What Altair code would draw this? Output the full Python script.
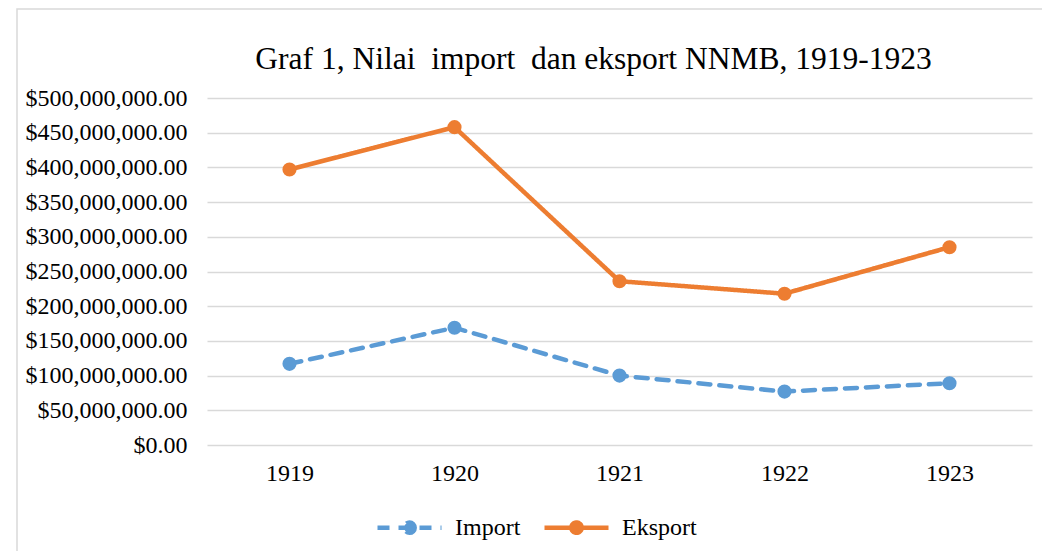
import altair as alt
import pandas as pd

years = ["1919", "1920", "1921", "1922", "1923"]
import_vals = [117_000_000, 169_000_000, 100_000_000, 77_000_000, 89_000_000]
eksport_vals = [397_000_000, 458_000_000, 236_000_000, 218_000_000, 285_000_000]
y_ticks = [0, 50_000_000, 100_000_000, 150_000_000, 200_000_000, 250_000_000,
           300_000_000, 350_000_000, 400_000_000, 450_000_000, 500_000_000]
series_names = ["Import", "Eksport"]
series_colors = ["#5B9BD5", "#ED7D31"]
title_text = "Graf 1, Nilai\u00a0 import\u00a0 dan eksport NNMB, 1919-1923"

rows = []
for name, vals in zip(series_names, [import_vals, eksport_vals]):
    for y, v in zip(years, vals):
        rows.append({"Tahun": y, "Nilai": v, "Seri": name})
df = pd.DataFrame(rows)

FONT = "Liberation Serif"

color_scale = alt.Scale(domain=series_names, range=series_colors)
dash_scale = alt.Scale(domain=series_names, range=[[12, 9], [1, 0]])

legend_path = ("M-1.6,0H1.6"
               "M0.26,0A0.26,0.26 0 1,1 -0.26,0A0.26,0.26 0 1,1 0.26,0"
               "M0.12,0A0.12,0.12 0 1,1 -0.12,0A0.12,0.12 0 1,1 0.12,0")

x_enc = alt.X("Tahun:N", sort=years, title=None,
              scale=alt.Scale(paddingInner=0, paddingOuter=0.0),
              axis=alt.Axis(labelAngle=0, ticks=False, domain=False, grid=False,
                            labelFont=FONT, labelFontSize=24, labelColor="#000000",
                            labelPadding=16))
y_enc = alt.Y("Nilai:Q", title=None,
              scale=alt.Scale(domain=[0, 500_000_000], nice=False),
              axis=alt.Axis(values=y_ticks, tickCount=len(y_ticks) + 2,
                            format="$,.2f", ticks=False, domain=False,
                            labelOverlap=False,
                            labelFont=FONT, labelFontSize=24, labelColor="#000000",
                            labelPadding=20, gridColor="#d9d9d9", gridWidth=1.5))

base = alt.Chart(df)

lines = base.mark_line(strokeWidth=4.5, strokeCap="round").encode(
    x=x_enc,
    y=y_enc,
    color=alt.Color("Seri:N", scale=color_scale, sort=series_names, title=None,
                    legend=alt.Legend(orient="none", direction="horizontal",
                                      legendX=180, legendY=407, padding=0,
                                      symbolType=legend_path, symbolSize=1600,
                                      symbolStrokeWidth=4.5, labelOffset=23,
                                      labelFont=FONT, labelFontSize=24,
                                      labelColor="#000000", columnPadding=14)),
    strokeDash=alt.StrokeDash("Seri:N", scale=dash_scale, sort=series_names, legend=None),
)

points = base.mark_point(filled=True, size=200, opacity=1).encode(
    x=x_enc,
    y=y_enc,
    color=alt.Color("Seri:N", scale=color_scale, legend=None),
)

border = alt.Chart(pd.DataFrame({"a": [0]})).mark_rect(
    fill=None, stroke="#d9d9d9", strokeWidth=1.5
).encode(x=alt.value(-190), x2=alt.value(870), y=alt.value(-89), y2=alt.value(480))

chart = alt.layer(border, lines, points).properties(
    width=825, height=347,
    title=alt.TitleParams(title_text, font=FONT, fontSize=31.5, fontWeight="normal",
                          color="#000000", anchor="middle", dx=-26, offset=-67),
    autosize=alt.AutoSizeParams(type="none"),
    padding={"left": 199, "top": 90, "right": 10, "bottom": 106},
).configure_view(stroke=None)

chart.save("out.html", embed_options={"renderer": "svg", "actions": False})
